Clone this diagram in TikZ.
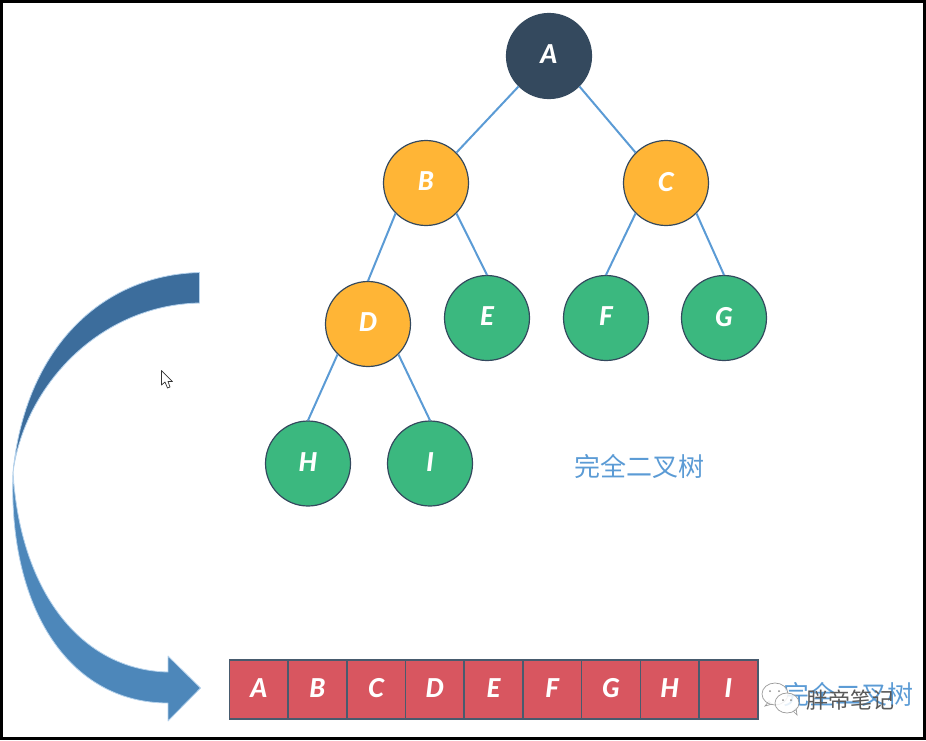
\documentclass[tikz,border=0pt]{standalone}
\usepackage{fontspec}
\setmainfont{Lato}[BoldItalicFont={Lato Black Italic}]
\newfontfamily\cjk{Noto Sans CJK SC}
\usetikzlibrary{positioning}
\definecolor{rootblue}{HTML}{34495E}
\definecolor{innerorange}{HTML}{FFB536}
\definecolor{leafgreen}{HTML}{3BB87F}
\definecolor{cellred}{HTML}{D85660}
\definecolor{edgeblue}{HTML}{5B9BD5}
\definecolor{arrowdark}{HTML}{3C6D9C}
\definecolor{arrowlight}{HTML}{4D87BA}
\newcommand{\letter}{\fontsize{26}{26}\selectfont\bfseries\itshape}

\begin{document}
\begin{tikzpicture}[
  x=1pt, y=-1pt,
  treenode/.style={
    circle,
    draw=rootblue,
    line width=1.2pt,
    minimum size=85pt,
    inner sep=0pt,
    text=white,
    text depth=3pt,
    font=\letter,
  },
  root/.style={treenode, fill=rootblue},
  inner/.style={treenode, fill=innerorange},
  leaf/.style={treenode, fill=leafgreen},
  cell/.style={
    draw=rootblue!90,
    fill=cellred,
    line width=1.6pt,
    minimum width=58.7pt,
    minimum height=59pt,
    inner sep=0pt,
    text=white,
    text depth=3pt,
    font=\letter,
  },
  link/.style={draw=edgeblue, line width=2pt},
  caption/.style={text=edgeblue, font=\fontsize{26}{26}\selectfont\cjk, inner sep=0pt},
  glow/.style={draw=edgeblue!45, line width=.8pt, line join=round},
  bubble/.style={draw=black!40, fill=white, fill opacity=.85, line width=.7pt},
]
\useasboundingbox (0,0) rectangle (926,740);
\draw[black, line width=2.6pt] (1.3,1.3) rectangle (924.5,738.5);

% ---- the tree, each node placed from its parent ----------------------------
\begin{scope}[on grid]
\node[root] (A) at (549,56) {A};
\node[inner, below left=127pt and 123pt of A] (B) {B};
\node[inner, below right=127pt and 117pt of A] (C) {C};
\node[inner, below left=141pt and 58pt of B] (D) {D};
\node[leaf, below right=135pt and 61pt of B] (E) {E};
\node[leaf, below left=135pt and 60pt of C] (F) {F};
\node[leaf, below right=135pt and 58pt of C] (G) {G};
\node[leaf, below left=139.5pt and 60pt of D] (H) {H};
\node[leaf, below right=139.5pt and 62pt of D] (I) {I};
\end{scope}

\draw[link] (A.225) -- (B.45);
\draw[link] (A.315) -- (C.135);
\draw[link] (B.225) -- (D.north);
\draw[link] (B.315) -- (E.north);
\draw[link] (C.225) -- (F.north);
\draw[link] (C.315) -- (G.north);
\draw[link] (D.225) -- (H.north);
\draw[link] (D.315) -- (I.north);

\node[caption, anchor=center] (treename) at (639,466) {完全二叉树};

% ---- the array along the bottom --------------------------------------------
\begin{scope}[on grid, node distance=58.7pt]
\node[cell] (a0) at (258.8,689.5) {A};
\foreach \name/\prev in {B/a0, C/aB, D/aC, E/aD, F/aE, G/aF, H/aG, I/aH}
  \node[cell, right=of \prev] (a\name) {\name};
\end{scope}

\node[caption, anchor=west] (arrayname) at (783,694) {完全二叉树};

% ---- the curved arrow, darker upper half then lighter lower half -----------
\path[glow, fill=arrowdark] (199.5,272.5)
  .. controls (100,275) and (25,350) .. (13,472)
  .. controls (25,385) and (100,305) .. (199.5,303) -- cycle;
\path[glow, fill=arrowlight] (13,472)
  .. controls (8,610) and (70,703) .. (168,703)
  -- (168,721) -- (200.5,688) -- (168,656) -- (168,672)
  .. controls (80,670) and (20,590) .. (13,472) -- cycle;

% ---- mouse pointer ---------------------------------------------------------
\draw[black!80, fill=white, line width=.7pt, line join=round]
  (161.5,370.5) -- (161.5,385) -- (165,382) -- (167.5,388) -- (170,387)
  -- (168,381.5) -- (172.5,381.5) -- cycle;

% ---- watermark over the caption --------------------------------------------
\draw[bubble] (769,701) -- (765,706) -- (772,704) to[out=-10, in=250] cycle;
\draw[bubble] (775,694) ellipse (13pt and 11pt);
\draw[bubble] (793,711) -- (797,715) -- (796,708) -- cycle;
\draw[bubble] (787,703) ellipse (12pt and 10pt);
\fill[black!45] (770,691) circle (1pt) (779,691) circle (1pt);
\fill[black!45] (783,700) circle (1pt) (791,700) circle (1pt);
\node[text=black!65, font=\fontsize{22}{22}\selectfont\cjk, inner sep=0pt, anchor=west]
  (mark) at (806,700) {胖帝笔记};
\end{tikzpicture}
\end{document}
